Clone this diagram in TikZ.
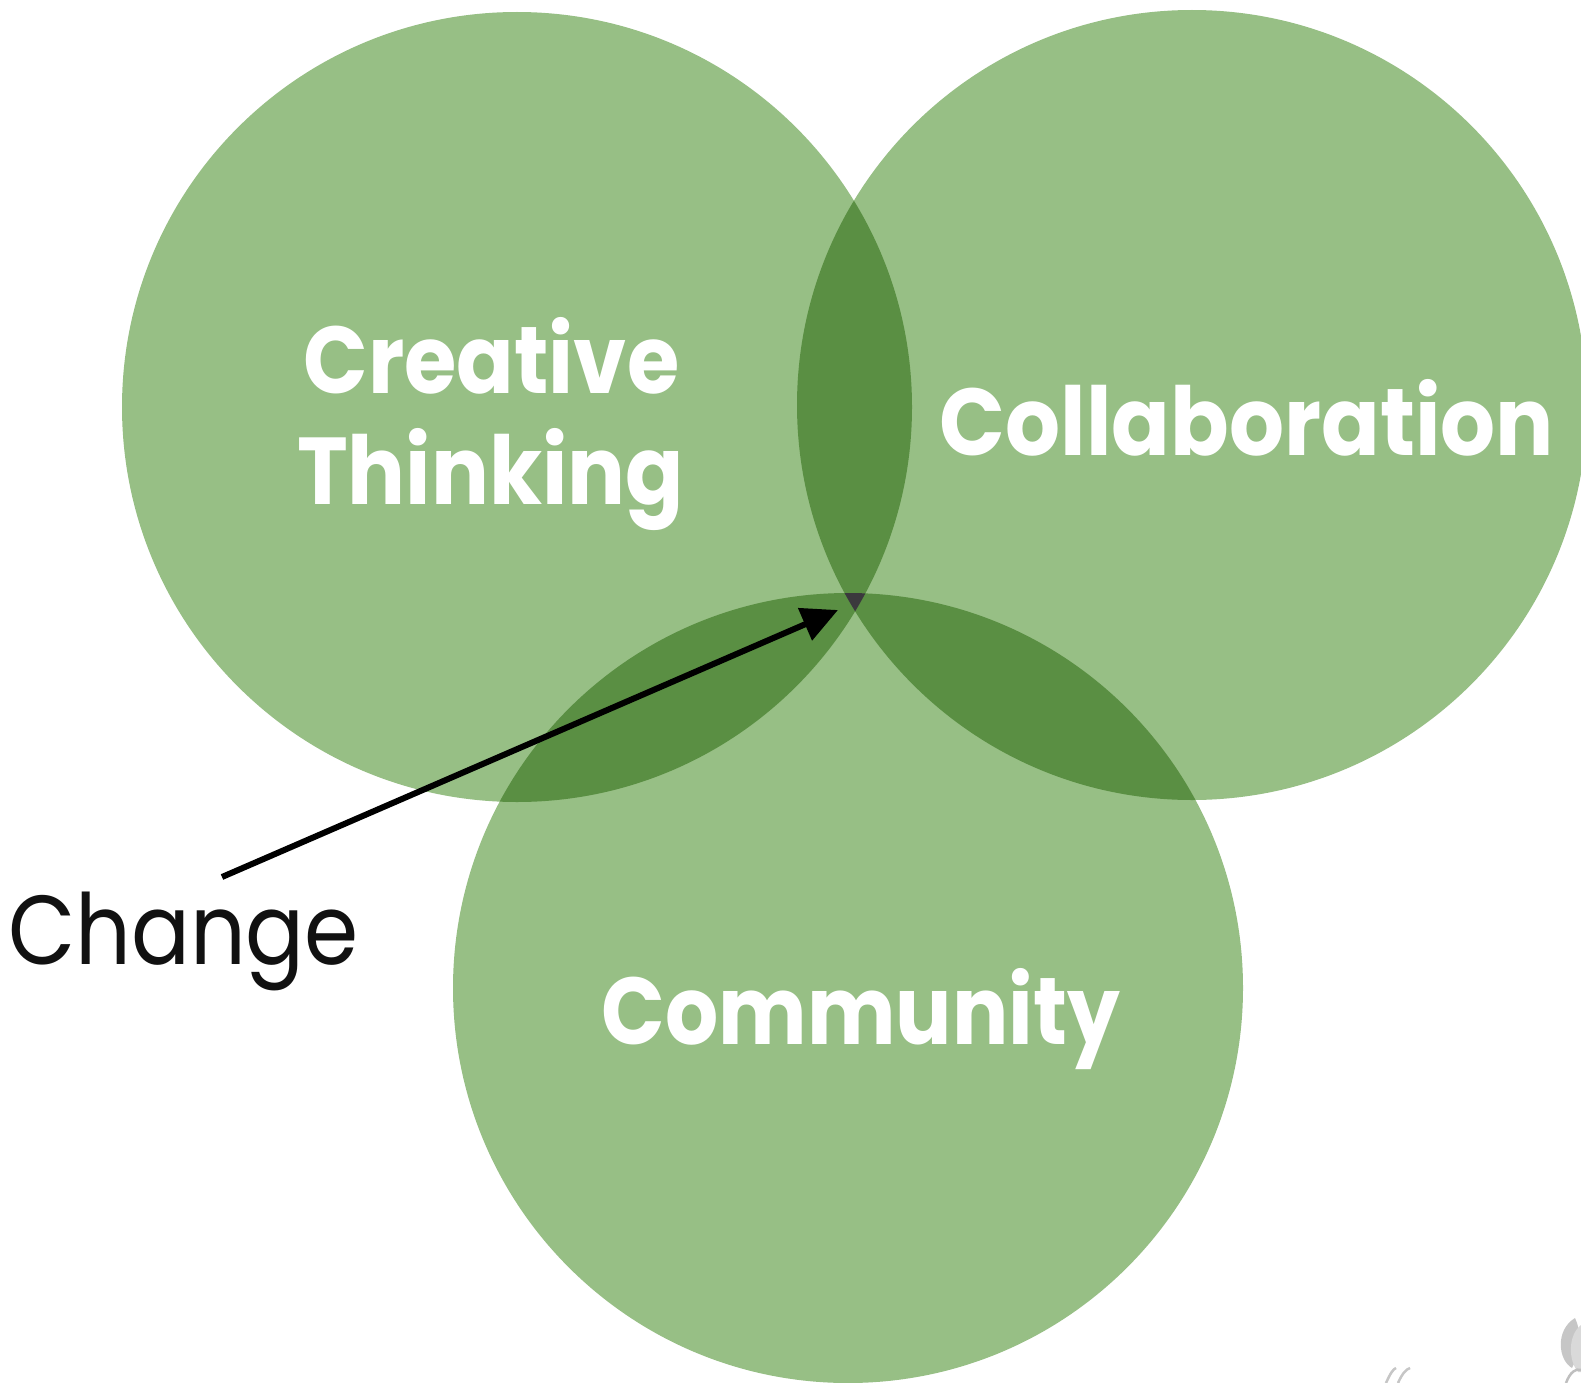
\documentclass[tikz,border=0pt]{standalone}
\usepackage{fontspec}
\usepackage{graphicx}
\setmainfont{Poppins}[Ligatures={NoCommon}]
\usetikzlibrary{arrows.meta}
\definecolor{lightgreen}{HTML}{97BF85}
\definecolor{darkgreen}{HTML}{5A8F43}
\definecolor{coregray}{HTML}{3B393D}
\definecolor{inkblack}{HTML}{111111}
\newcommand{\narrowtext}[2]{\scalebox{#1}[1]{#2}}
\tikzset{
  bubble/.style={fill=lightgreen},
  label/.style={anchor=base, inner sep=0pt, text=white, font=\fontsize{95}{100}\selectfont\bfseries},
  plainlabel/.style={anchor=base, inner sep=0pt, text=inkblack, font=\fontsize{98}{100}\selectfont}
}
\tikzset{pointer/.style={line width=6pt, draw=black, -{Triangle[length=36pt,width=34pt]}}}
\begin{document}
\begin{tikzpicture}[x=1pt,y=-1pt]
\useasboundingbox (0,0) rectangle (1581,1383);
\clip (0,0) rectangle (1581,1383);
\coordinate (c1) at (517,407);
\coordinate (c2) at (1192,405);
\coordinate (c3) at (848,988);
% circles
\fill[bubble] (c1) circle[radius=395pt];
\fill[bubble] (c2) circle[radius=395pt];
\fill[bubble] (c3) circle[radius=395pt];
% pairwise overlaps
\begin{scope}
  \clip (c1) circle[radius=395pt];
  \fill[darkgreen] (c2) circle[radius=395pt];
  \fill[darkgreen] (c3) circle[radius=395pt];
\end{scope}
\begin{scope}
  \clip (c2) circle[radius=395pt];
  \fill[darkgreen] (c3) circle[radius=395pt];
\end{scope}
% triple overlap
\begin{scope}
  \clip (c1) circle[radius=395pt];
  \clip (c2) circle[radius=395pt];
  \fill[coregray] (c3) circle[radius=395pt];
\end{scope}
% faint watermark fragments
\fill[gray!45] (1575,1318) .. controls (1555,1330) and (1558,1360) .. (1572,1368) .. controls (1581,1350) and (1581,1330) .. (1575,1318) -- cycle;
\fill[gray!30] (1581,1325) .. controls (1568,1335) and (1568,1360) .. (1578,1372) -- (1581,1372) -- cycle;
\draw[gray!50, line width=2.5pt] (1566,1383) .. controls (1570,1372) and (1576,1368) .. (1581,1370);
\draw[gray!45, line width=2.5pt] (1386,1383) .. controls (1390,1374) and (1393,1369) .. (1396,1368);
\draw[gray!45, line width=2.5pt] (1398,1383) .. controls (1402,1374) and (1406,1369) .. (1410,1368);
% labels
\node[label] (t1) at (491.5,393) {\narrowtext{0.893}{Creative}};
\node[label] (t2) at (490.5,504) {\narrowtext{0.905}{Thinking}};
\node[label] (t3) at (1247,455) {\narrowtext{0.91}{Collaboration}};
\node[label] (t4) at (861,1044) {\narrowtext{0.88}{Community}};
\node[plainlabel] (t5) at (183.5,964) {\narrowtext{0.89}{Change}};
% arrow
\coordinate (astart) at (222,877);
\coordinate (atip) at (838,610);
\draw[pointer] (astart) -- (atip);
\end{tikzpicture}
\end{document}
